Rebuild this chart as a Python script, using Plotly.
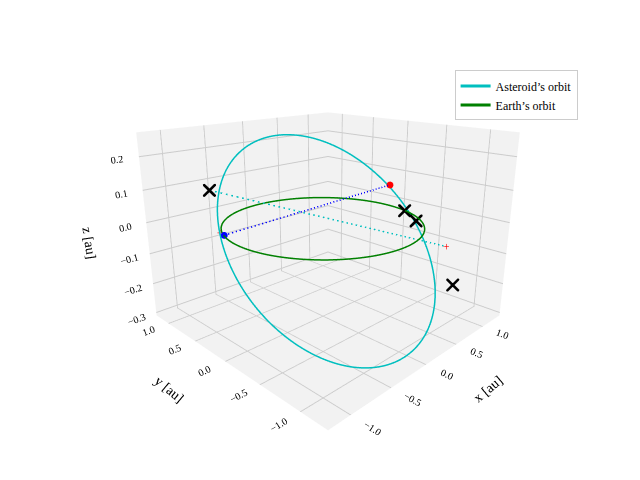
import numpy as np
import plotly.graph_objects as go

# asteroid orbital elements
a_ast = 1.075
e_ast = 0.12
inc_deg = 14.0
node_deg = 345.0
peri_deg = 90.0

# marker positions [x, y, z]
earth_pos = [-0.92, 0.38, 0.0]
ast_pos = [1.0, -0.05, 0.07]
cross_pts = [[-1.0, 0.45, 0.13], [0.95, -0.3, 0.0], [1.0, -0.42, -0.03], [0.95, -0.95, -0.2]]
plus_pts = [[-0.85, 0.55, -0.01], [1.1, -0.75, -0.1]]
cyan_line = [[-1.0, 0.45, 0.13], [1.1, -0.75, -0.1]]

nu = np.linspace(0, 2 * np.pi, 300)
r = a_ast * (1 - e_ast**2) / (1 + e_ast * np.cos(nu))
i, O, w = np.radians([inc_deg, node_deg, peri_deg])
u = nu + w
ax = r * (np.cos(O) * np.cos(u) - np.sin(O) * np.sin(u) * np.cos(i))
ay = r * (np.sin(O) * np.cos(u) + np.cos(O) * np.sin(u) * np.cos(i))
az = r * np.sin(u) * np.sin(i)

th = np.linspace(0, 2 * np.pi, 300)

fig = go.Figure()
fig.add_trace(go.Scatter3d(x=ax, y=ay, z=az, mode="lines", line=dict(color="#00bfbf", width=3), name="Asteroid’s orbit"))
fig.add_trace(go.Scatter3d(x=np.cos(th), y=np.sin(th), z=0 * th, mode="lines", line=dict(color="green", width=3), name="Earth’s orbit"))
fig.add_trace(go.Scatter3d(x=[earth_pos[0], ast_pos[0]], y=[earth_pos[1], ast_pos[1]], z=[earth_pos[2], ast_pos[2]],
                           mode="lines", line=dict(color="blue", width=3, dash="dash"), showlegend=False))
fig.add_trace(go.Scatter3d(x=[p[0] for p in cyan_line], y=[p[1] for p in cyan_line], z=[p[2] for p in cyan_line],
                           mode="lines", line=dict(color="#00bfbf", width=3, dash="dash"), showlegend=False))
fig.add_trace(go.Scatter3d(x=[earth_pos[0]], y=[earth_pos[1]], z=[earth_pos[2]], mode="markers",
                           marker=dict(color="blue", size=4), showlegend=False))
fig.add_trace(go.Scatter3d(x=[ast_pos[0]], y=[ast_pos[1]], z=[ast_pos[2]], mode="markers",
                           marker=dict(color="red", size=4), showlegend=False))
fig.add_trace(go.Scatter3d(x=[p[0] for p in cross_pts], y=[p[1] for p in cross_pts], z=[p[2] for p in cross_pts],
                           mode="markers", marker=dict(color="black", size=3, symbol="x"), showlegend=False))
fig.add_trace(go.Scatter3d(x=[p[0] for p in plus_pts], y=[p[1] for p in plus_pts], z=[p[2] for p in plus_pts],
                           mode="markers", marker=dict(color="red", size=3, symbol="cross"), showlegend=False))

axis_style = dict(backgroundcolor="#f2f2f2", gridcolor="#cccccc", showbackground=True, tickformat=".1f",
                  zeroline=False, tickfont=dict(size=11), title_font=dict(size=17))
fig.update_layout(
    width=640, height=480,
    margin=dict(l=0, r=0, t=0, b=0),
    font=dict(family="Liberation Serif", color="black"),
    paper_bgcolor="white",
    scene=dict(
        xaxis=dict(axis_style, title="x [au]", range=[-1.25, 1.35], tickvals=[-1.0, -0.5, 0.0, 0.5, 1.0]),
        yaxis=dict(axis_style, title="y [au]", range=[-1.3, 1.25], tickvals=[-1.0, -0.5, 0.0, 0.5, 1.0]),
        zaxis=dict(axis_style, title="z [au]", range=[-0.31, 0.27], tickvals=[-0.3, -0.2, -0.1, 0.0, 0.1, 0.2]),
        aspectmode="manual",
        aspectratio=dict(x=1, y=1, z=0.75),
        camera=dict(eye=dict(x=-1.4, y=-1.4, z=0.65)),
        domain=dict(x=[0.05, 0.95], y=[0.08, 1.0]),
    ),
    legend=dict(x=0.89, y=0.87, xanchor="right", yanchor="top", bgcolor="white",
                bordercolor="#cccccc", borderwidth=1, font=dict(size=12)),
)
fig.write_html("out.html")
